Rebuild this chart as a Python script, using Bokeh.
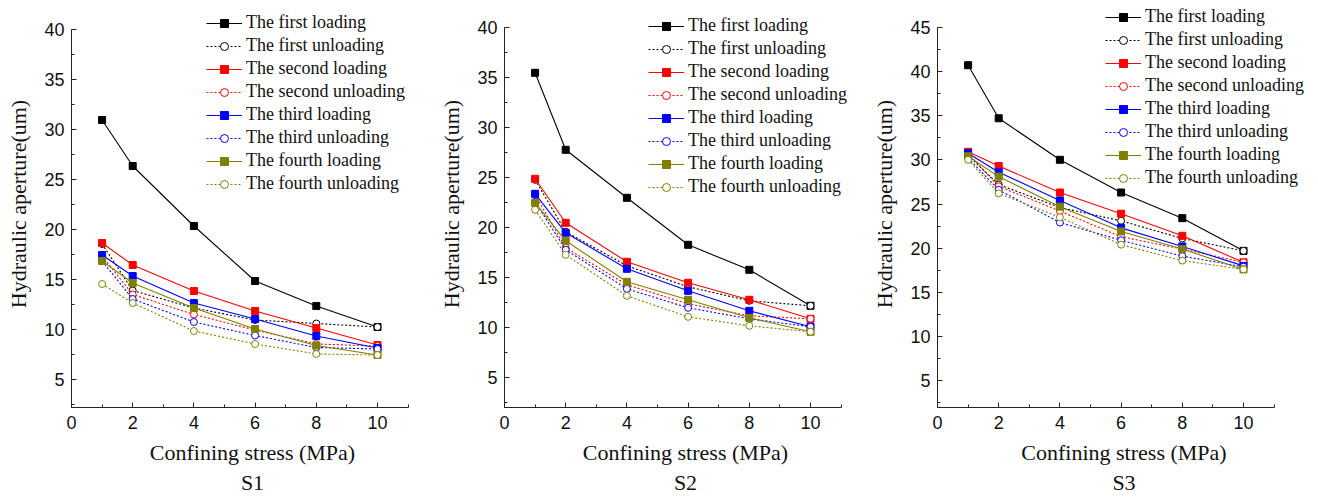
from bokeh.plotting import figure
from bokeh.layouts import row
from bokeh.models import (Range1d, SingleIntervalTicker, Legend, LegendItem, Title)
from bokeh.embed import file_html
from bokeh.resources import INLINE

# ---------------- data ----------------
stress = [1, 2, 4, 6, 8, 10]
series_names = ["The first loading", "The first unloading",
                "The second loading", "The second unloading",
                "The third loading", "The third unloading",
                "The fourth loading", "The fourth unloading"]
panel_titles = ["S1", "S2", "S3"]

s1_first_loading = [30.9, 26.3, 20.3, 14.8, 12.3, 10.2]
s1_first_unloading = [18.5, 13.85, 12.1, 10.9, 10.55, 10.2]
s1_second_loading = [18.6, 16.4, 13.8, 11.8, 10.1, 8.4]
s1_second_unloading = [17.3, 13.45, 11.45, 9.9, 8.5, 8.3]
s1_third_loading = [17.4, 15.3, 12.6, 11.0, 9.3, 8.1]
s1_third_unloading = [16.8, 13.0, 10.7, 9.35, 8.15, 8.0]
s1_fourth_loading = [16.8, 14.6, 12.1, 10.0, 8.35, 7.4]
s1_fourth_unloading = [14.5, 12.6, 9.8, 8.5, 7.5, 7.4]

s2_first_loading = [35.5, 27.8, 23.0, 18.3, 15.8, 12.2]
s2_first_unloading = [24.8, 19.6, 16.2, 14.1, 12.7, 12.2]
s2_second_loading = [24.9, 20.5, 16.6, 14.5, 12.8, 10.9]
s2_second_unloading = [23.3, 18.0, 14.3, 12.4, 11.2, 10.9]
s2_third_loading = [23.4, 19.5, 15.9, 13.7, 11.7, 10.1]
s2_third_unloading = [22.6, 17.8, 13.9, 12.0, 10.9, 10.1]
s2_fourth_loading = [22.5, 18.7, 14.6, 12.8, 11.0, 9.6]
s2_fourth_unloading = [21.8, 17.3, 13.2, 11.1, 10.2, 9.6]

s3_first_loading = [40.7, 34.7, 30.0, 26.3, 23.4, 19.7]
s3_first_unloading = [30.5, 27.2, 24.6, 23.1, 21.1, 19.7]
s3_second_loading = [30.9, 29.3, 26.3, 23.9, 21.4, 18.4]
s3_second_unloading = [30.7, 27.0, 24.2, 21.3, 19.9, 18.4]
s3_third_loading = [30.75, 28.6, 25.4, 22.3, 20.2, 18.0]
s3_third_unloading = [30.2, 26.6, 22.9, 20.9, 19.1, 17.9]
s3_fourth_loading = [30.4, 28.1, 24.7, 21.9, 19.9, 17.6]
s3_fourth_unloading = [30.0, 26.2, 23.5, 20.4, 18.6, 17.6]

panels_data = [
    [s1_first_loading, s1_first_unloading, s1_second_loading, s1_second_unloading,
     s1_third_loading, s1_third_unloading, s1_fourth_loading, s1_fourth_unloading],
    [s2_first_loading, s2_first_unloading, s2_second_loading, s2_second_unloading,
     s2_third_loading, s2_third_unloading, s2_fourth_loading, s2_fourth_unloading],
    [s3_first_loading, s3_first_unloading, s3_second_loading, s3_second_unloading,
     s3_third_loading, s3_third_unloading, s3_fourth_loading, s3_fourth_unloading],
]

# ---------------- styling ----------------
colors = ["#000000", "#000000", "#FF0000", "#FF0000",
          "#0000FF", "#0000FF", "#808000", "#808000"]
# (visible axis start, axis end, range end incl. headroom for legend)
y_axes = [(2.15, 40, 42.85), (2.03, 40, 42.73), (1.98, 45, 48.02)]
frame_widths = [362, 362, 373]
PX_PER_X = 30.6
legend_pos = [(135, 213), (144, 210), (168, 219)]

SERIF = "Liberation Serif"
SANS = "Liberation Sans"
FH = 407


def make_panel(idx):
    y0, y1, ytop = y_axes[idx]
    fw = frame_widths[idx]
    p = figure(frame_width=fw, frame_height=FH,
               output_backend="svg", toolbar_location=None,
               x_range=Range1d(0, fw / PX_PER_X), y_range=Range1d(y0, ytop),
               min_border_left=71, min_border_right=0,
               min_border_top=0, min_border_bottom=0)
    p.outline_line_color = None
    p.grid.visible = False
    p.background_fill_color = "white"

    p.xaxis.ticker = SingleIntervalTicker(interval=2, num_minor_ticks=2)
    p.yaxis.ticker = SingleIntervalTicker(interval=5, num_minor_ticks=2)
    p.xaxis.bounds = (0, 11)
    p.yaxis.bounds = (y0, y1)
    for ax in (p.xaxis[0], p.yaxis[0]):
        ax.major_tick_in = 5
        ax.major_tick_out = 0
        ax.minor_tick_in = 3
        ax.minor_tick_out = 0
        ax.axis_line_color = "#222222"
        ax.major_tick_line_color = "#222222"
        ax.minor_tick_line_color = "#222222"
        ax.major_label_text_font = SANS
        ax.major_label_text_font_size = "18px"
        ax.major_label_text_color = "#111111"
        ax.axis_label_text_font = SERIF
        ax.axis_label_text_font_size = "22px"
        ax.axis_label_text_font_style = "normal"
        ax.axis_label_text_color = "#111111"
    p.xaxis.axis_label = "Confining stress (MPa)"
    p.yaxis.axis_label = "Hydraulic aperture(um)"
    p.xaxis.major_label_standoff = 8
    p.yaxis.major_label_standoff = 7
    p.xaxis.axis_label_standoff = 8
    p.yaxis.axis_label_standoff = 10

    items = []
    for k, (name, ys) in enumerate(zip(series_names, panels_data[idx])):
        c = colors[k]
        loading = (k % 2 == 0)
        if loading:
            lr = p.line(stress, ys, line_color=c, line_width=1.1)
            mr = p.scatter(stress, ys, marker="square", size=7,
                           fill_color=c, line_color=c)
        else:
            lr = p.line(stress, ys, line_color=c, line_width=1.1, line_dash="2 2")
            mr = p.scatter(stress, ys, marker="circle", size=7,
                           fill_color="white", line_color=c, line_width=1)
        items.append(LegendItem(label=name, renderers=[lr, mr]))

    legend = Legend(items=items, location=legend_pos[idx],
                    label_text_font=SERIF, label_text_font_size="18px",
                    label_text_color="#111111",
                    glyph_width=36, glyph_height=20, label_height=20,
                    label_standoff=4, spacing=2, padding=0, margin=0,
                    border_line_alpha=0, background_fill_alpha=0)
    p.add_layout(legend, "center")

    t = Title(text=panel_titles[idx], align="center", standoff=1,
              text_font=SERIF, text_font_size="22px", text_font_style="normal",
              text_color="#111111")
    p.add_layout(t, "below")
    return p


layout = row(make_panel(0), make_panel(1), make_panel(2))
open("out.html", "w").write(file_html(layout, INLINE))
